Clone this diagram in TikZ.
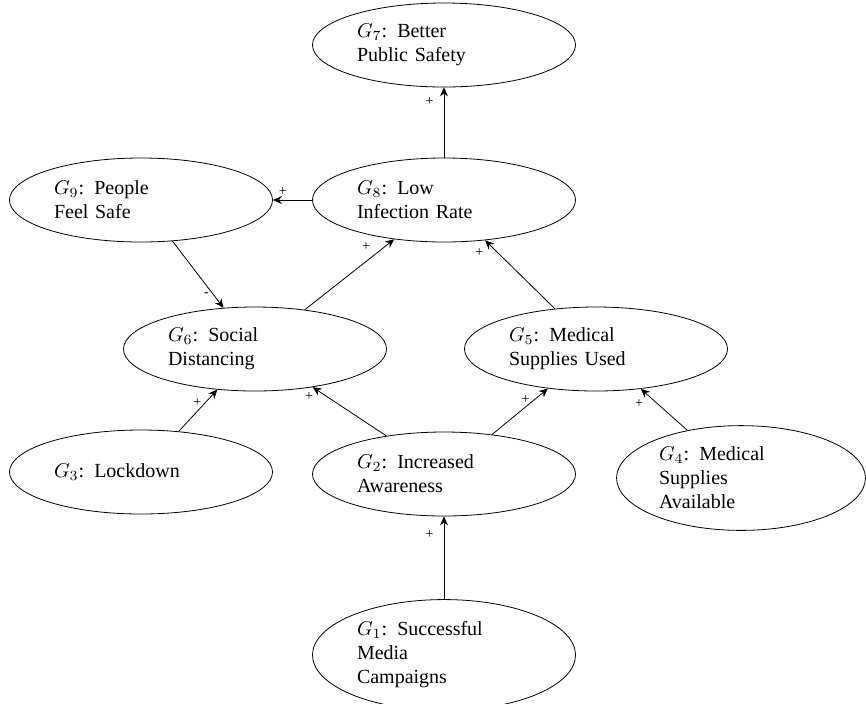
\documentclass[tikz,border=0pt]{standalone}
\usepackage{fontspec}
\setmainfont{Liberation Serif}
\usetikzlibrary{shapes.geometric,arrows.meta}
\begin{document}
\begin{tikzpicture}[x=0.5pt,y=-0.5pt,
  goal/.style={draw,ellipse,text width=87pt,align=left,inner sep=3pt,minimum height=42pt,font=\normalsize},
  goalnarrow/.style={goal,text width=82pt},
  link/.style={-{Stealth[length=4.5pt,width=4pt,inset=1.5pt]}},
  sgn/.style={font=\scriptsize,inner sep=2pt}]
\useasboundingbox (0,0) rectangle (866,703);
\node[goal] (g7) at (444,45) {$G_7$: Better\\Public Safety};
\node[goal] (g8) at (444,200) {$G_8$: Low\\Infection Rate};
\node[goal] (g9) at (141,200) {$G_9$: People\\Feel Safe};
\node[goal] (g6) at (255,349) {$G_6$: Social\\Distancing};
\node[goal] (g5) at (596,349) {$G_5$: Medical\\Supplies Used};
\node[goal] (g3) at (141,472) {$G_3$: Lockdown};
\node[goal] (g2) at (444,474) {$G_2$: Increased\\Awareness};
\node[goalnarrow] (g4) at (741,478) {$G_4$: Medical\\Supplies\\Available};
\node[goal] (g1) at (444,655) {$G_1$: Successful\\Media\\Campaigns};
\draw[link] (g8) -- node[sgn,pos=0.8,left=3pt] {+} (g7);
\draw[link] (g8) -- node[sgn,pos=0.75,above] {+} (g9);
\draw[link] (g9) -- node[sgn,pos=0.8,left] {-} (g6);
\draw[link] (g6) -- node[sgn,pos=0.78,above left] {+} (g8);
\draw[link] (g5) -- node[sgn,pos=0.82,left=5pt] {+} (g8);
\draw[link] (g3) -- node[sgn,pos=0.7,left] {+} (g6);
\draw[link] (g2) -- node[sgn,pos=0.8,left=5pt] {+} (g6);
\draw[link] (g2) -- node[sgn,pos=0.75,left] {+} (g5);
\draw[link] (g4) -- node[sgn,pos=0.86,below left] {+} (g5);
\draw[link] (g1) -- node[sgn,pos=0.78,left=3pt] {+} (g2);
\end{tikzpicture}
\end{document}
